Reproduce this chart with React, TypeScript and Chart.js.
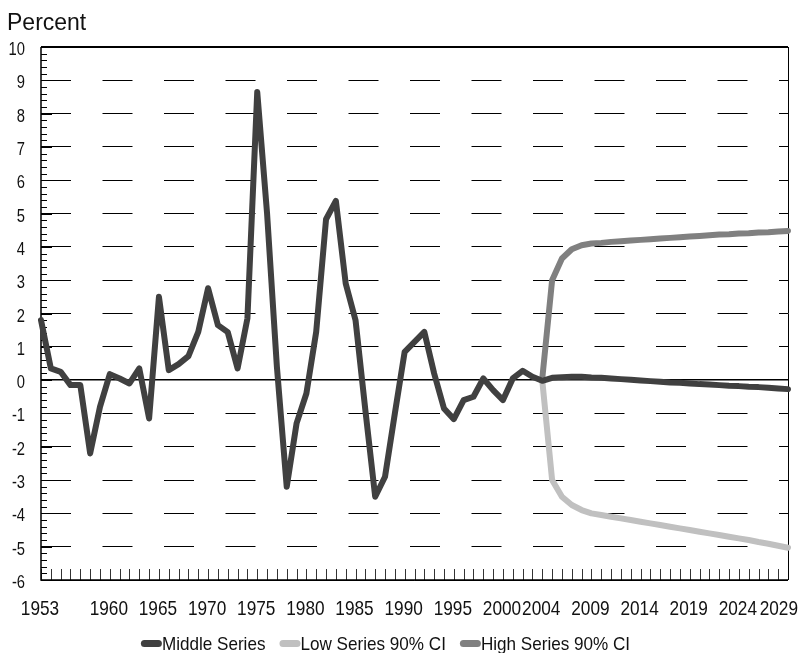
import React, { useEffect, useRef } from "react";
import { Chart, registerables } from "chart.js";

Chart.register(...registerables);

const years: string[] = [
  "1953", "1954", "1955", "1956", "1957", "1958", "1959", "1960", "1961", "1962",
  "1963", "1964", "1965", "1966", "1967", "1968", "1969", "1970", "1971", "1972",
  "1973", "1974", "1975", "1976", "1977", "1978", "1979", "1980", "1981", "1982",
  "1983", "1984", "1985", "1986", "1987", "1988", "1989", "1990", "1991", "1992",
  "1993", "1994", "1995", "1996", "1997", "1998", "1999", "2000", "2001", "2002",
  "2003", "2004", "2005", "2006", "2007", "2008", "2009", "2010", "2011", "2012",
  "2013", "2014", "2015", "2016", "2017", "2018", "2019", "2020", "2021", "2022",
  "2023", "2024", "2025", "2026", "2027", "2028", "2029",
];

const tickLabels: string[] = [
  "1953", "1960", "1965", "1970", "1975", "1980", "1985", "1990", "1995", "2000",
  "2004", "2009", "2014", "2019", "2024", "2029",
];

// 1953 .. 2029
const middleSeries: number[] = [
  1.8, 0.35, 0.25, -0.15, -0.15, -2.2, -0.8, 0.18, 0.05, -0.1,
  0.35, -1.15, 2.5, 0.3, 0.48, 0.72, 1.45, 2.76, 1.65, 1.44,
  0.35, 1.85, 8.65, 5.0, 0.4, -3.2, -1.3, -0.4, 1.45, 4.83,
  5.38, 2.9, 1.8, -0.9, -3.5, -2.9, -1.0, 0.85, 1.15, 1.45,
  0.2, -0.85, -1.17, -0.6, -0.5, 0.05, -0.3, -0.6, 0.05, 0.28,
  0.1, -0.02, 0.07, 0.09, 0.1, 0.1, 0.08, 0.07, 0.05, 0.03,
  0.01, -0.01, -0.03, -0.05, -0.07, -0.08, -0.1, -0.12, -0.13, -0.15,
  -0.17, -0.18, -0.2, -0.21, -0.23, -0.25, -0.27,
];

// 2004 .. 2029
const lowSeries: number[] = [
  -0.02, -3.0, -3.5, -3.75, -3.9, -4.0, -4.05, -4.1, -4.15, -4.2,
  -4.25, -4.3, -4.35, -4.4, -4.45, -4.5, -4.55, -4.6, -4.65, -4.7,
  -4.75, -4.8, -4.86, -4.91, -4.97, -5.03,
];

// 2004 .. 2029
const highSeries: number[] = [
  0.05, 3.0, 3.65, 3.93, 4.05, 4.1, 4.12, 4.15, 4.17, 4.19,
  4.21, 4.23, 4.25, 4.27, 4.29, 4.31, 4.33, 4.35, 4.37, 4.38,
  4.4, 4.41, 4.43, 4.44, 4.46, 4.48,
];

const seriesNames: string[] = ["Middle Series", "Low Series 90% CI", "High Series 90% CI"];
const seriesColors: string[] = ["#404040", "#c0c0c0", "#808080"];
const forecastStart = "2004";
const yAxisTitle = "Percent";

const SANS = "'Liberation Sans', Arial, sans-serif";
const NARROW_SCALE = 0.82;

function padForecast(values: number[]): (number | null)[] {
  const start = years.indexOf(forecastStart);
  return years.map((_, i) => (i < start ? null : values[i - start]));
}

function drawScaledText(ctx: CanvasRenderingContext2D, text: string, x: number, y: number, align: CanvasTextAlign, sx: number) {
  ctx.save();
  ctx.translate(x, y);
  ctx.scale(sx, 1);
  ctx.textAlign = align;
  ctx.textBaseline = "alphabetic";
  ctx.fillText(text, 0, 0);
  ctx.restore();
}

const framePlugin = {
  id: "frame",
  beforeDatasetsDraw(chart: any) {
    const { ctx, chartArea, scales } = chart;
    const { left, right, top, bottom } = chartArea;
    const x = scales.x;
    const y = scales.y;
    ctx.save();
    ctx.strokeStyle = "#000";
    ctx.lineWidth = 1;
    // y minor/major ticks
    for (let i = -30; i <= 50; i++) {
      const py = Math.round(y.getPixelForValue(i / 5)) + 0.5;
      const len = i % 5 === 0 ? 11 : 6;
      ctx.beginPath();
      ctx.moveTo(left, py);
      ctx.lineTo(left + len, py);
      ctx.stroke();
    }
    // x ticks every year
    ctx.strokeStyle = "#333";
    for (let i = 0; i < years.length; i++) {
      const px = Math.round(x.getPixelForValue(i)) + 0.5;
      ctx.beginPath();
      ctx.moveTo(px, bottom - 11);
      ctx.lineTo(px, bottom);
      ctx.stroke();
    }
    // frame
    ctx.strokeStyle = "#000";
    ctx.lineWidth = 1.5;
    ctx.beginPath();
    ctx.moveTo(left, top);
    ctx.lineTo(left, bottom);
    ctx.lineTo(right, bottom);
    ctx.stroke();
    ctx.lineWidth = 1;
    ctx.beginPath();
    ctx.moveTo(Math.round(right) + 0.5, top);
    ctx.lineTo(Math.round(right) + 0.5, bottom);
    ctx.stroke();
    ctx.lineWidth = 2;
    ctx.beginPath();
    ctx.moveTo(left, top);
    ctx.lineTo(right, top);
    ctx.stroke();
    ctx.restore();
  },
  afterDraw(chart: any) {
    const { ctx, scales, width } = chart;
    const x = scales.x;
    const y = scales.y;
    ctx.save();
    ctx.fillStyle = "#111";

    // y tick labels (narrow)
    ctx.font = `18px ${SANS}`;
    y.ticks.forEach((t: any) => {
      const py = y.getPixelForValue(t.value);
      drawScaledText(ctx, String(t.value), 25, py + 8, "right", NARROW_SCALE);
    });

    // x tick labels (narrow), kept inside the canvas
    ctx.font = `21px ${SANS}`;
    years.forEach((yr, i) => {
      if (!tickLabels.includes(yr)) return;
      const half = (ctx.measureText(yr).width * NARROW_SCALE) / 2;
      const px = Math.min(x.getPixelForValue(i) - 1, width - 7 - half);
      drawScaledText(ctx, yr, px, 615, "center", NARROW_SCALE);
    });

    // axis title
    ctx.font = `23px ${SANS}`;
    ctx.textAlign = "left";
    ctx.textBaseline = "alphabetic";
    ctx.fillText(yAxisTitle, 7, 30);

    // legend
    const legendScale = 0.9;
    ctx.font = `19px ${SANS}`;
    const markerW = 21;
    const markerH = 7;
    const gap = 14;
    const widths = seriesNames.map((n) => ctx.measureText(n).width * legendScale);
    const total = widths.reduce((a, b) => a + b, 0) + markerW * seriesNames.length + gap * (seriesNames.length - 1);
    let lx = 385.5 - total / 2;
    const cy = 643.5;
    seriesNames.forEach((name, i) => {
      ctx.fillStyle = seriesColors[i];
      ctx.beginPath();
      (ctx as any).roundRect(lx, cy - markerH / 2, markerW, markerH, markerH / 2);
      ctx.fill();
      lx += markerW;
      ctx.fillStyle = "#111";
      drawScaledText(ctx, name, lx, 650, "left", legendScale);
      lx += widths[i] + gap;
    });
    ctx.restore();
  },
};

export default function App() {
  const canvasRef = useRef<HTMLCanvasElement | null>(null);

  useEffect(() => {
    if (!canvasRef.current) return;
    const solidValues = [0, 10, -6];
    const lineStyle = {
      borderWidth: 6,
      pointRadius: 0,
      tension: 0,
      borderJoinStyle: "round" as const,
      borderCapStyle: "round" as const,
    };
    const chart = new Chart(canvasRef.current, {
      type: "line",
      data: {
        labels: years,
        datasets: [
          {
            label: seriesNames[0],
            data: middleSeries,
            borderColor: seriesColors[0],
            backgroundColor: seriesColors[0],
            ...lineStyle,
          },
          {
            label: seriesNames[1],
            data: padForecast(lowSeries),
            borderColor: seriesColors[1],
            backgroundColor: seriesColors[1],
            ...lineStyle,
          },
          {
            label: seriesNames[2],
            data: padForecast(highSeries),
            borderColor: seriesColors[2],
            backgroundColor: seriesColors[2],
            ...lineStyle,
          },
        ],
      },
      options: {
        animation: false,
        responsive: true,
        maintainAspectRatio: false,
        layout: { padding: { left: 0, right: 17, top: 47, bottom: 0 } },
        plugins: {
          legend: { display: false },
          tooltip: { enabled: false },
          title: { display: false },
        },
        scales: {
          x: {
            type: "category",
            grid: { display: false, drawTicks: false },
            border: { display: false },
            ticks: { display: false, autoSkip: false, maxRotation: 0, minRotation: 0 },
            afterFit: (scale: any) => {
              scale.height = 73;
              scale.paddingLeft = 0;
              scale.paddingRight = 0;
            },
          },
          y: {
            min: -6,
            max: 10,
            ticks: { display: false, stepSize: 1 },
            grid: {
              color: "#000",
              drawTicks: false,
              lineWidth: (c: any) => (c.tick && c.tick.value === 0 ? 1.5 : 1),
            },
            border: {
              display: false,
              dash: (c: any) => (c.tick && solidValues.includes(c.tick.value) ? [] : [30, 31.5]),
            },
            afterFit: (scale: any) => {
              scale.width = 41;
              scale.paddingTop = 0;
              scale.paddingBottom = 0;
            },
          },
        },
      },
      plugins: [framePlugin],
    });
    return () => chart.destroy();
  }, []);

  return (
    <div style={{ position: "absolute", left: 0, top: 0, width: 805, height: 653, background: "#fff" }}>
      <canvas ref={canvasRef} />
    </div>
  );
}
